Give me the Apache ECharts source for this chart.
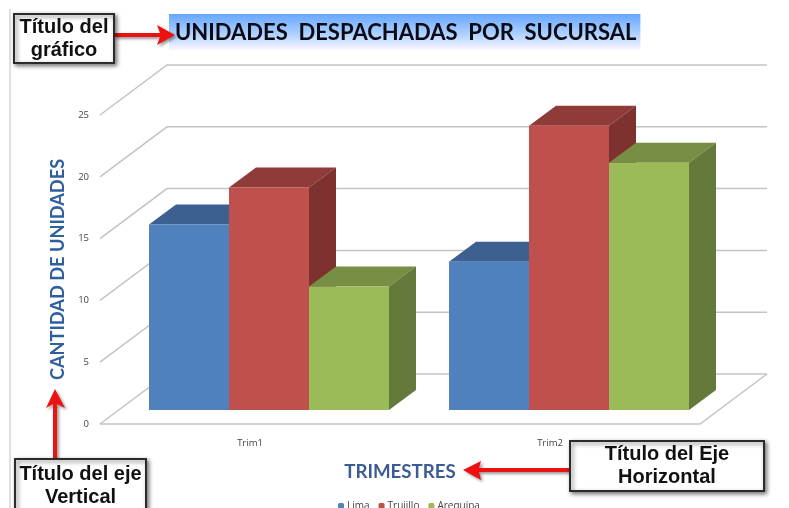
<!DOCTYPE html>
<html>
<head>
<meta charset="utf-8">
<title>Unidades despachadas por sucursal</title>
<script src="https://cdn.jsdelivr.net/npm/echarts@6/dist/echarts.min.js"></script>
<style>
    html, body { margin: 0; padding: 0; background: #fff; }
    #chart { width: 789px; height: 508px; overflow: hidden; }
</style>
</head>
<body>
<div id="chart"></div>
<script>
// datos del gráfico
const trimestres = ['Trim1', 'Trim2'];
const lima = [15, 12];
const trujillo = [18, 23];
const arequipa = [10, 20];
const marcasEje = [0, 5, 10, 15, 20, 25];

// profundidad de la caja 3D y de las barras (px)
const FONDO_X = 67, FONDO_Y = 50;
const BARRA_X = 27, BARRA_Y = 20;
const DESPLAZA_X = 19, DESPLAZA_Y = 14;

// dibuja las paredes: líneas de cuadrícula laterales y del fondo
function renderPared(params, api) {
    const cs = params.coordSys;
    const y = api.coord([0, api.value(1)])[1];
    const x0 = cs.x, x1 = cs.x + cs.width;
    const estilo = { stroke: '#c4c4c4', lineWidth: 1.5, fill: null };
    const hijos = [
        { type: 'polyline', shape: { points: [[x0, y], [x0 + FONDO_X, y - FONDO_Y], [x1 + FONDO_X, y - FONDO_Y]] }, style: estilo }
    ];
    if (api.value(1) === 0) {
        hijos.push({ type: 'polyline', shape: { points: [[x0, y], [x1, y], [x1 + FONDO_X, y - FONDO_Y]] }, style: estilo });
    }
    return { type: 'group', children: hijos };
}

// barra 3D: frente, tapa y lateral
function renderBarra(orden, colores) {
    return function (params, api) {
        const tope = api.coord([api.value(0), api.value(1)]);
        const base = api.coord([api.value(0), 0]);
        const ancho = api.size([1, 0])[0] * 80 / 300;
        const x0 = tope[0] + DESPLAZA_X + (orden - 1.5) * ancho;
        const x1 = x0 + ancho;
        const yTope = tope[1] - DESPLAZA_Y;
        const yBase = base[1] - DESPLAZA_Y;
        return {
            type: 'group',
            children: [
                { type: 'polygon', shape: { points: [[x0, yTope], [x0 + BARRA_X, yTope - BARRA_Y], [x1 + BARRA_X, yTope - BARRA_Y], [x1, yTope]] }, style: { fill: colores.tapa } },
                { type: 'polygon', shape: { points: [[x1, yTope], [x1 + BARRA_X, yTope - BARRA_Y], [x1 + BARRA_X, yBase - BARRA_Y], [x1, yBase]] }, style: { fill: colores.lado } },
                { type: 'rect', shape: { x: x0, y: yTope, width: ancho, height: yBase - yTope }, style: { fill: colores.frente } }
            ]
        };
    };
}

function serieBarra(nombre, valores, orden, colores) {
    return {
        name: nombre,
        type: 'custom',
        coordinateSystem: 'cartesian2d',
        itemStyle: { color: colores.frente },
        encode: { x: 0, y: 1 },
        data: valores.map((v, i) => [i, v]),
        renderItem: renderBarra(orden, colores),
        silent: true
    };
}

// recuadros de anotación con su flecha
function recuadro(x, y, w, h, texto) {
    return [
        { type: 'rect', shape: { x: x, y: y, width: w, height: h }, z: 20,
          style: { fill: '#fff', stroke: '#2b2b2b', lineWidth: 2, shadowBlur: 4, shadowOffsetX: 2, shadowOffsetY: 2, shadowColor: 'rgba(0,0,0,0.5)' } },
        { type: 'text', x: x + w / 2, y: y + h / 2, z: 21,
          style: { text: texto, fill: '#111', font: 'bold 20px "Liberation Sans"', align: 'center', verticalAlign: 'middle', lineHeight: 23,
                   shadowBlur: 3, shadowOffsetX: 1, shadowOffsetY: 1, shadowColor: 'rgba(0,0,0,0.45)' } }
    ];
}

function flecha(puntos) {
    return { type: 'polygon', z: 19, shape: { points: puntos },
             style: { fill: '#ee1111', shadowBlur: 3, shadowOffsetX: 2, shadowOffsetY: 2, shadowColor: 'rgba(0,0,0,0.4)' } };
}

const anotaciones = [
    { type: 'line', z: 1, shape: { x1: 10, y1: 9, x2: 10, y2: 508 }, style: { stroke: '#b7c4c4', lineWidth: 1 } },
    flecha([[114, 33], [160, 33], [157, 25], [175, 35], [157, 45], [160, 37], [114, 37]]),
    flecha([[53, 459], [53, 404], [46, 408], [55, 389], [65, 408], [57, 404], [57, 459]]),
    flecha([[571, 468], [479, 468], [481, 461], [463, 470], [481, 480], [479, 472], [571, 472]]),
    ...recuadro(14, 14, 100, 49, 'Título del\ngráfico'),
    ...recuadro(15, 459, 131, 54, 'Título del eje\nVertical'),
    ...recuadro(570, 441, 194, 50, 'Título del Eje\nHorizontal')
];

const chart = echarts.init(document.getElementById('chart'));

chart.setOption({
    animation: false,
    backgroundColor: '#fff',
    title: {
        text: 'UNIDADES  DESPACHADAS  POR  SUCURSAL',
        left: 169,
        top: 14,
        padding: [8, 4, 6, 6],
        backgroundColor: {
            type: 'linear', x: 0, y: 0, x2: 0, y2: 1,
            colorStops: [
                { offset: 0, color: '#66a6ff' },
                { offset: 0.6, color: '#b4d4ff' },
                { offset: 1, color: '#fdf6ff' }
            ]
        },
        textStyle: { fontFamily: 'Lato', fontWeight: 'bold', fontSize: 22, color: '#0a0a14' }
    },
    legend: {
        data: ['Lima', 'Trujillo', 'Arequipa'],
        left: 338,
        top: 501,
        itemWidth: 6,
        itemHeight: 6,
        itemGap: 9,
        padding: 0,
        textStyle: { fontFamily: 'Open Sans', fontSize: 10, color: '#444', padding: [0, 0, 0, -2] }
    },
    grid: { left: 100, top: 115, width: 600, height: 309 },
    xAxis: {
        type: 'category',
        data: trimestres,
        name: 'TRIMESTRES',
        nameLocation: 'middle',
        nameGap: 38,
        nameTextStyle: { fontFamily: 'Lato', fontWeight: 'bold', fontSize: 18.7, color: '#3b5b95' },
        axisLine: { show: false },
        axisTick: { show: false },
        axisLabel: { margin: 14, fontFamily: 'Open Sans', fontSize: 9.5, color: '#444' }
    },
    yAxis: {
        type: 'value',
        min: 0,
        max: 25,
        interval: 5,
        name: 'CANTIDAD DE UNIDADES',
        nameLocation: 'middle',
        nameGap: 31,
        nameTextStyle: { fontFamily: 'Lato', fontWeight: 'bold', fontSize: 18.2, color: '#2f5f9e' },
        axisLine: { show: false },
        axisTick: { show: false },
        splitLine: { show: false },
        axisLabel: { margin: 11, fontFamily: 'Open Sans', fontSize: 9.5, color: '#444' }
    },
    graphic: anotaciones,
    series: [
        {
            name: 'pared',
            type: 'custom',
            coordinateSystem: 'cartesian2d',
            encode: { y: 1 },
            data: marcasEje.map(v => [0, v]),
            renderItem: renderPared,
            silent: true
        },
        serieBarra('Lima', lima, 0, { frente: '#4f81bd', tapa: '#3c6190', lado: '#355377' }),
        serieBarra('Trujillo', trujillo, 1, { frente: '#c0504d', tapa: '#8f3b39', lado: '#7d3230' }),
        serieBarra('Arequipa', arequipa, 2, { frente: '#9bbb59', tapa: '#778e45', lado: '#647a3a' })
    ]
});
</script>
</body>
</html>
